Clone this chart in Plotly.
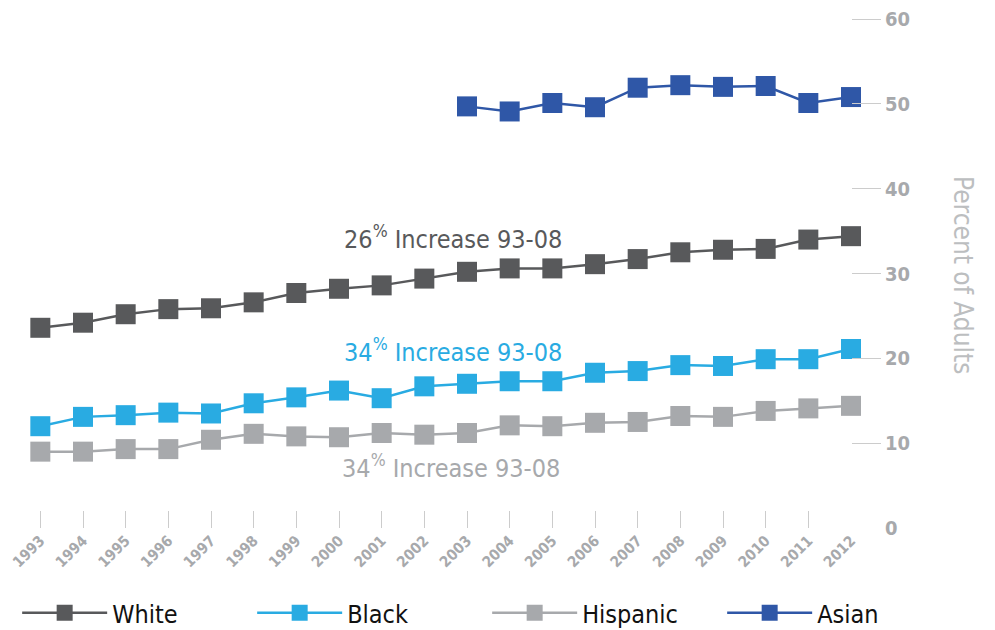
import plotly.graph_objects as go

years = list(range(1993, 2013))
white = [23.6, 24.2, 25.2, 25.8, 25.9, 26.6, 27.7, 28.2, 28.6, 29.4,
         30.2, 30.6, 30.6, 31.1, 31.7, 32.5, 32.8, 32.9, 34.0, 34.4]
black = [12.0, 13.1, 13.3, 13.6, 13.5, 14.7, 15.4, 16.2, 15.3, 16.7,
         17.0, 17.3, 17.3, 18.3, 18.5, 19.2, 19.1, 19.9, 19.9, 21.1]
hispanic = [9.0, 9.0, 9.3, 9.3, 10.4, 11.1, 10.8, 10.7, 11.2, 11.0,
            11.2, 12.1, 12.0, 12.4, 12.5, 13.2, 13.1, 13.8, 14.1, 14.4]
asian_years = list(range(2003, 2013))
asian = [49.7, 49.1, 50.1, 49.6, 51.9, 52.2, 52.0, 52.1, 50.1, 50.8]

y_ticks = [10, 20, 30, 40, 50, 60]
y_zero_tick = [0]
y_title = "Percent of Adults"
notes = [
    ("26<sup>%</sup> Increase 93-08", 2002.68, 34.3, "#58595b"),
    ("34<sup>%</sup> Increase 93-08", 2002.68, 20.9, "#29abe2"),
    ("34<sup>%</sup> Increase 93-08", 2002.63, 7.2, "#a7a9ac"),
]

FONT = "DejaVu Sans Condensed, Liberation Sans Narrow, Roboto, sans-serif"

series = [
    ("White", years, white, "#58595b"),
    ("Black", years, black, "#29abe2"),
    ("Hispanic", years, hispanic, "#a7a9ac"),
    ("Asian", asian_years, asian, "#2f57a7"),
]

fig = go.Figure()
for name, xs, ys, col in series:
    fig.add_trace(go.Scatter(
        x=xs, y=ys, name=name, mode="lines+markers",
        line=dict(color=col, width=2.5),
        marker=dict(symbol="square", size=20, color=col),
        cliponaxis=False,
    ))

# empty helper trace so the secondary axis (zero label only) is drawn
fig.add_trace(go.Scatter(x=[None], y=[None], yaxis="y2", showlegend=False,
                         hoverinfo="skip", mode="markers"))

for text, x, y, col in notes:
    fig.add_annotation(x=x, y=y, xref="x", yref="y", text=text, showarrow=False,
                       font=dict(family=FONT, size=25, color=col),
                       xanchor="center", yanchor="middle")

fig.add_annotation(x=(980 - 18.7) / (851 - 18.7), y=(528 - 275) / 509,
                   xref="paper", yref="paper", text=y_title,
                   showarrow=False, textangle=90,
                   font=dict(family=FONT, size=26, color="#bcbec0"))

tickfont_y = dict(family=FONT, size=20, color="#a7a9ac", weight="bold")

fig.update_layout(
    width=995, height=630,
    margin=dict(l=18.7, r=144, t=19, b=102, autoexpand=False),
    paper_bgcolor="white", plot_bgcolor="white",
    font=dict(family=FONT),
    showlegend=True,
    legend=dict(orientation="h", x=1.1276, xanchor="right", y=-0.167, yanchor="middle",
                yref="paper", font=dict(family=FONT, size=25, color="#111111"),
                entrywidth=135, entrywidthmode="pixels", itemwidth=85,
                traceorder="normal", bgcolor="rgba(0,0,0,0)"),
    xaxis=dict(range=[1992.5, 2012], tickvals=years, ticktext=[str(y) for y in years],
               tickangle=-45, ticks="inside", ticklen=17, tickcolor="#cccccc",
               tickwidth=1.2, showgrid=False, zeroline=False, showline=False,
               tickfont=dict(family=FONT, size=15, color="#a7a9ac", weight="bold")),
    yaxis=dict(range=[0, 60], side="right", tickvals=y_ticks,
               ticks="outside", ticklen=29, tickcolor="#cccccc", tickwidth=1.2,
               showgrid=False, zeroline=False, showline=False, tickfont=tickfont_y),
    yaxis2=dict(range=[0, 60], side="right", overlaying="y", tickvals=y_zero_tick,
                ticks="outside", ticklen=29, tickcolor="rgba(0,0,0,0)",
                showgrid=False, zeroline=False, showline=False, tickfont=tickfont_y),
)

fig.write_html("out.html")
